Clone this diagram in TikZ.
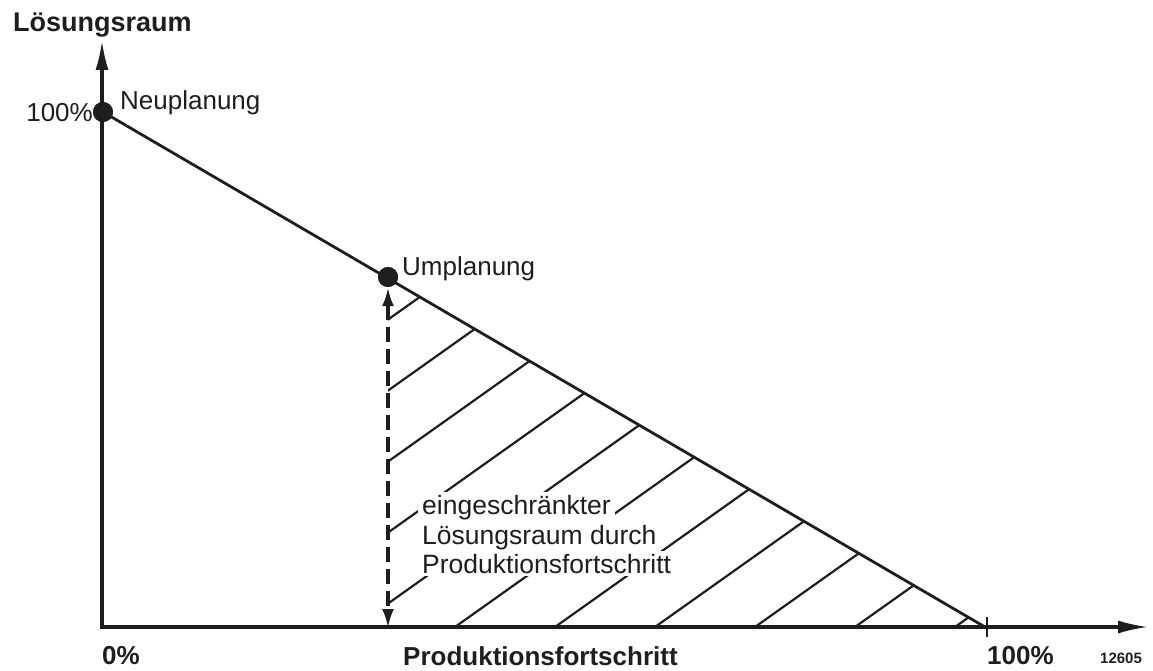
\documentclass[tikz,border=0pt]{standalone}
\usepackage{fontspec}
\setmainfont{Liberation Sans}
\usetikzlibrary{arrows.meta}

\definecolor{ink}{HTML}{1E1E1E}

\tikzset{
  axisline/.style={line width=3.4pt, draw=ink, line join=miter},
  diagline/.style={line width=2.8pt, draw=ink},
  hatchline/.style={line width=2.2pt, draw=ink},
  dotmark/.style={circle, fill=ink, inner sep=0pt, minimum size=20pt},
  lbl/.style={inner sep=0pt, text=ink, font=\fontsize{26}{30}\selectfont},
  boldlbl/.style={lbl, font=\fontsize{26}{30}\selectfont\bfseries},
  masklbl/.style={lbl, fill=white, inner xsep=4pt, inner ysep=3pt, font=\fontsize{26.5}{30}\selectfont},
  rangearrow/.style={line width=3.4pt, draw=ink, dash pattern=on 15pt off 7pt,
    {Latex[length=19pt,width=12pt]}-{Latex[length=19pt,width=12pt]}},
}

\begin{document}
\begin{tikzpicture}[x=1pt, y=-1pt]
\useasboundingbox (0,0) rectangle (1153,671);

% axes
\coordinate (origin) at (102,627);
\coordinate (ytop) at (102,40);
\coordinate (xend) at (1149,627);
\coordinate (full) at (985,627);
\coordinate (ticktop) at (987,617);
\coordinate (tickbot) at (987,637);
\coordinate (dashbot) at (388,627);

% hatched region below the planning line, right of the dashed marker
\begin{scope}
  \clip (388,278.4) -- (985,627) -- (388,627) -- cycle;
  \foreach \k in {-4,...,6} {
    \draw[hatchline] ({355+100*\k-600},{627+0.71*600}) -- ({355+100*\k+600},{627-0.71*600});
  }
\end{scope}

% planning line from new planning to full production
\node[dotmark] (neu) at (103,112) {};
\node[dotmark] (ump) at (388,277) {};
\draw[diagline] (neu.center) -- (full);

\draw[axisline, {Latex[length=30pt,width=13pt]}-{Latex[length=31pt,width=13pt]}]
  (ytop) -- (origin) -- (xend);
\draw[line width=2.4pt, draw=ink] (ticktop) -- (tickbot);

\node[dotmark] at (neu) {};
\node[dotmark] at (ump) {};

% remaining solution space marker
\draw[rangearrow] (ump.south) -- ([yshift=-1pt]dashbot);

% labels
\node[boldlbl, font=\fontsize{27}{30}\selectfont\bfseries, anchor=base west] (ylabel) at (13,32) {Lösungsraum};
\node[lbl, anchor=base west] (neulabel) at (120,110) {Neuplanung};
\node[lbl, anchor=base east] (yhundred) at (93,122) {100\%};
\node[lbl, anchor=base west] (umplabel) at (402,275) {Umplanung};

\node[masklbl, anchor=base west] (t1) at (418,514) {eingeschränkter};
\node[masklbl, anchor=base west] (t2) at (418,544) {Lösungsraum durch};
\node[masklbl, anchor=base west] (t3) at (418,573) {Produktionsfortschritt};

\node[boldlbl, anchor=base west] (xzero) at (102,664) {0\%};
\node[boldlbl, anchor=base west] (xlabel) at (403,665) {Produktionsfortschritt};
\node[boldlbl, anchor=base west] (xhundred) at (987,664) {100\%};
\node[lbl, font=\fontsize{15}{18}\selectfont\bfseries, anchor=base west] (fignum) at (1100,663) {12605};
\end{tikzpicture}
\end{document}
